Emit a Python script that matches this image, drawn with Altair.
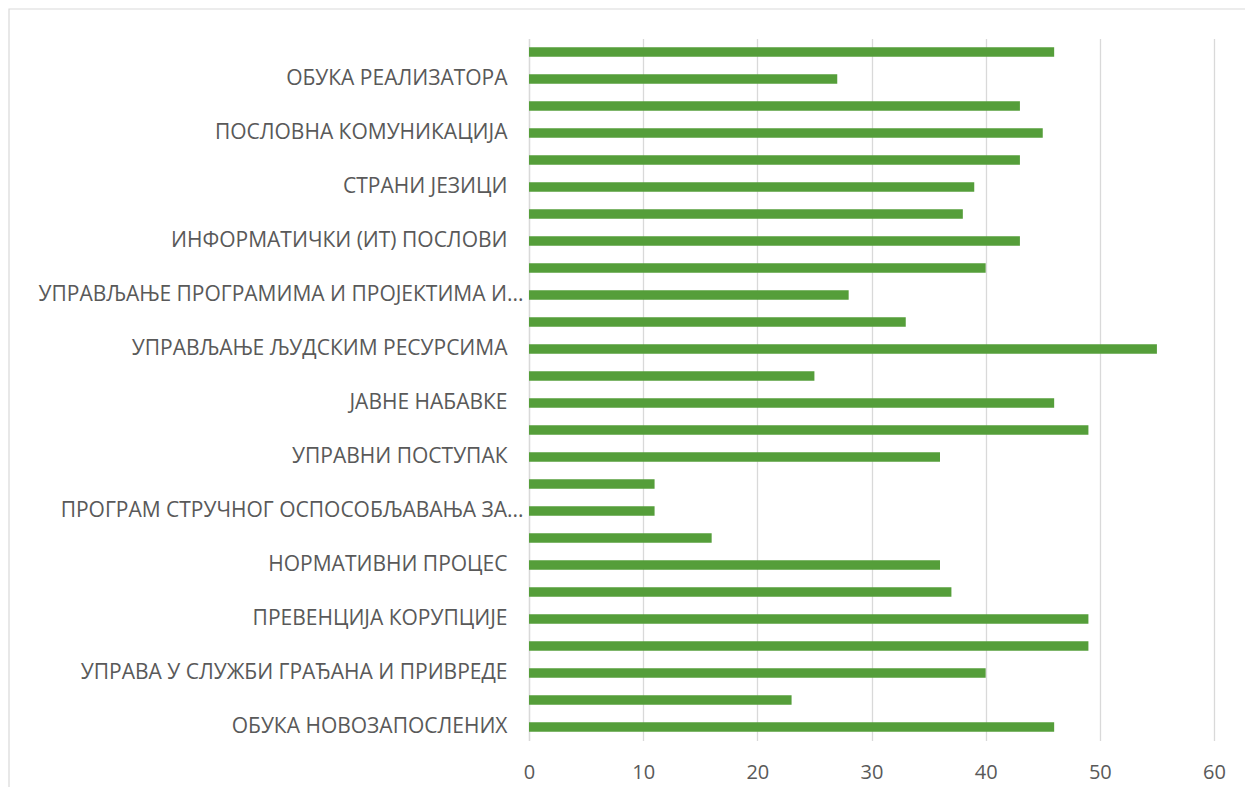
import altair as alt
import pandas as pd

# Categories listed top to bottom; names starting with "_" are categories whose
# axis label is skipped in the original chart (every other label is shown).
categories = [
    "_01",
    "ОБУКА РЕАЛИЗАТОРА",
    "_03",
    "ПОСЛОВНА КОМУНИКАЦИЈА",
    "_05",
    "СТРАНИ ЈЕЗИЦИ",
    "_07",
    "ИНФОРМАТИЧКИ (ИТ) ПОСЛОВИ",
    "_09",
    "УПРАВЉАЊЕ ПРОГРАМИМА И ПРОЈЕКТИМА И...",
    "_11",
    "УПРАВЉАЊЕ ЉУДСКИМ РЕСУРСИМА",
    "_13",
    "ЈАВНЕ НАБАВКЕ",
    "_15",
    "УПРАВНИ ПОСТУПАК",
    "_17",
    "ПРОГРАМ СТРУЧНОГ ОСПОСОБЉАВАЊА ЗА...",
    "_19",
    "НОРМАТИВНИ ПРОЦЕС",
    "_21",
    "ПРЕВЕНЦИЈА КОРУПЦИЈЕ",
    "_23",
    "УПРАВА У СЛУЖБИ ГРАЂАНА И ПРИВРЕДЕ",
    "_25",
    "ОБУКА НОВОЗАПОСЛЕНИХ",
]
values = [46, 27, 43, 45, 43, 39, 38, 43, 40, 28, 33, 55, 25, 46, 49, 36,
          11, 11, 16, 36, 37, 49, 49, 40, 23, 46]
x_ticks = [0, 10, 20, 30, 40, 50, 60]

df = pd.DataFrame({"category": categories, "value": values})

GRAY = "#d9d9d9"
TEXT = "#595959"
FONT = "Open Sans"

label_expr = "slice(datum.value, 0, 1) == '_' ? '' : datum.value"

bars = alt.Chart(df).mark_bar(color="#559E3A").encode(
    x=alt.X(
        "value:Q",
        scale=alt.Scale(domain=[0, 60], nice=False),
        axis=alt.Axis(
            values=x_ticks, title=None, grid=True, gridColor=GRAY, gridWidth=1.3,
            domain=False, ticks=False, labelFontSize=20, labelColor=TEXT,
            labelFont=FONT, labelPadding=22, labelFlush=False,
        ),
    ),
    y=alt.Y(
        "category:N",
        sort=categories,
        scale=alt.Scale(paddingInner=0.65, paddingOuter=0.325),
        axis=alt.Axis(
            title=None, ticks=False, domain=True, domainColor=GRAY, domainWidth=1.3,
            labelExpr=label_expr, labelLimit=700,
            labelPadding=alt.ConditionalAxisNumber(
                condition={"test": "indexof(datum.value, '...') >= 0", "value": 6},
                value=22,
            ),
            labelFontSize=21, labelColor=TEXT, labelFont=FONT,
        ),
    ),
)

border = alt.Chart(pd.DataFrame({"b": [0]})).mark_rect(
    fill=None, stroke=GRAY, strokeWidth=1.2
).encode(
    x=alt.value(-520), x2=alt.value(760),
    y=alt.value(-29.5), y2=alt.value(790),
)

chart = alt.layer(border, bars).properties(
    width=685, height=702,
    autosize=alt.AutoSizeParams(type="none"),
    padding={"left": 521, "top": 30.5, "right": 31, "bottom": 46.5},
).configure_view(stroke=None)

chart.save("out.html", embed_options={"renderer": "svg", "actions": False})
